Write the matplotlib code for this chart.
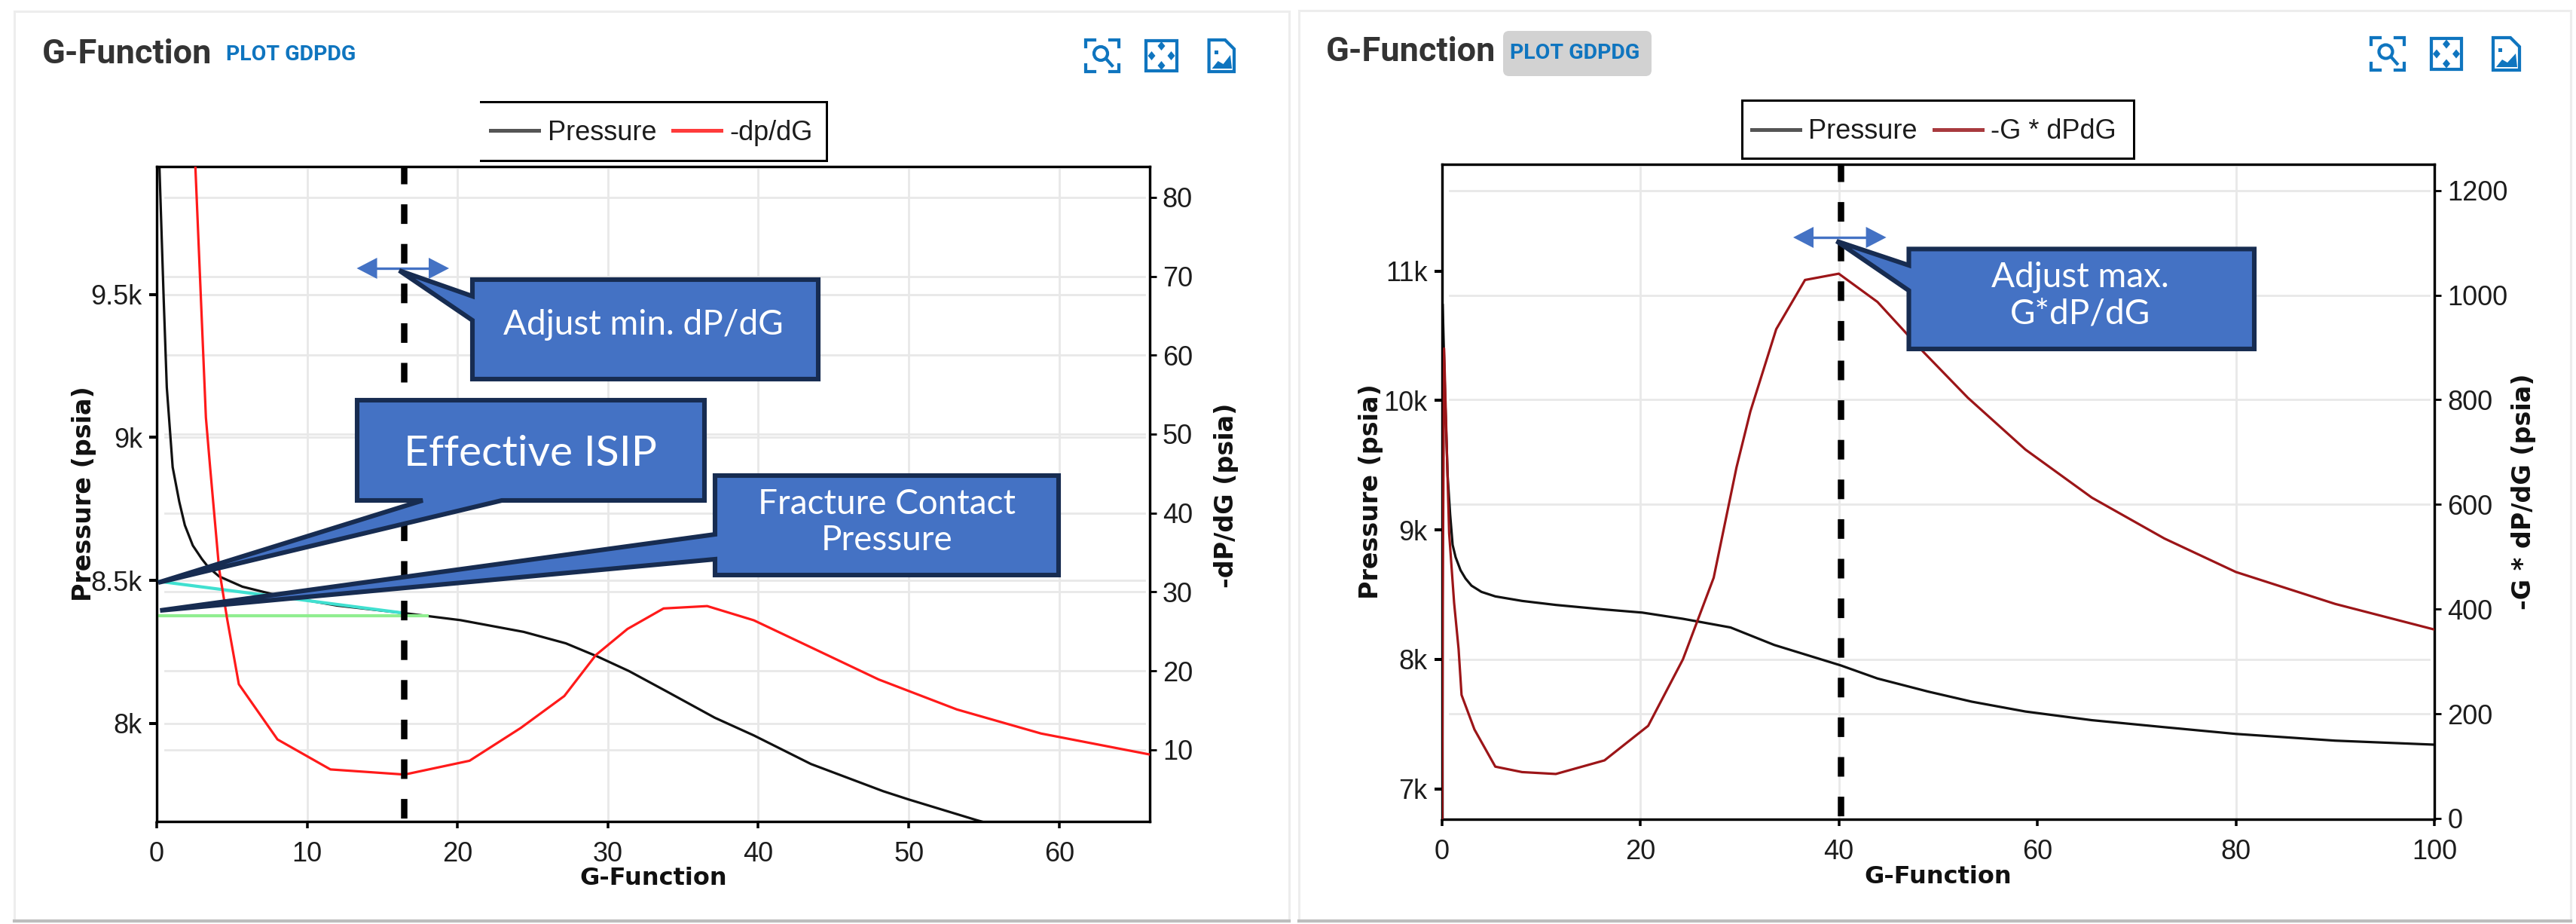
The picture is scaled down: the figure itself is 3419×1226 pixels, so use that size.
import matplotlib
matplotlib.use("Agg")
import matplotlib.pyplot as plt
import matplotlib.transforms as mtrans
from matplotlib.lines import Line2D
from matplotlib.patches import Polygon, Rectangle, FancyBboxPatch, Circle

# ---------- data ----------
left_g_pressure = [0.18, 0.46, 0.67, 1.06, 1.5, 1.87, 2.4, 3.0, 3.45, 4.15, 5.7, 7.85, 12, 16.4, 20.2, 24.4, 27.2, 29.3, 31.4, 33.9, 37.1, 39.7, 43.5, 48.3, 50, 54.5, 56]
left_pressure = [9947, 9489, 9175, 8896, 8775, 8693, 8622, 8575, 8545, 8514, 8478, 8450, 8412, 8386, 8361, 8320, 8280, 8234, 8183, 8112, 8020, 7958, 7858, 7763, 7734, 7662, 7640]
left_g_dpdg = [2.57, 3.27, 3.55, 4.15, 4.68, 5.46, 8.03, 11.55, 16.48, 20.8, 24.2, 27.1, 29.2, 31.3, 33.7, 36.6, 39.7, 43.8, 48, 53.2, 58.8, 66]
left_dpdg = [83.9, 52.1, 45.8, 32.9, 26.6, 18.3, 11.3, 7.5, 6.85, 8.6, 12.75, 16.8, 22, 25.3, 27.9, 28.2, 26.4, 22.7, 18.9, 15.1, 12.05, 9.4]
teal_g = [0.1, 16.4]
teal_p = [8497, 8386]
green_g = [0.1, 18]
green_p = [8377, 8377]
right_g_pressure = [0.1, 0.35, 0.6, 0.85, 1.1, 1.4, 1.9, 2.4, 3, 4, 5.4, 8.1, 11.5, 16.4, 20.2, 24.3, 29.1, 33.5, 40.2, 43.9, 49, 53.4, 58.8, 65.5, 72.8, 80, 90, 100]
right_pressure = [10737, 10000, 9417, 9120, 8885, 8790, 8689, 8625, 8570, 8522, 8487, 8452, 8421, 8386, 8362, 8314, 8247, 8112, 7954, 7853, 7752, 7674, 7598, 7531, 7477, 7425, 7373, 7342]
right_g_gdpdg = [0.05, 0.1, 0.24, 0.62, 0.75, 1.25, 1.7, 2.0, 3.3, 5.4, 8.1, 11.5, 16.4, 20.8, 24.3, 27.4, 29.7, 31.1, 33.7, 36.6, 40, 43.9, 48.5, 53, 58.8, 65.5, 72.8, 80, 90, 100]
right_gdpdg = [0, 400, 898, 632, 545, 412, 324, 236, 170, 99, 88.6, 85, 111, 177, 304, 460, 671, 778, 935, 1029, 1041, 987, 892, 804, 705, 613, 535, 471, 410, 361]

left_closure_g = 16.44
right_closure_g = 40.2
left_xticks = [0, 10, 20, 30, 40, 50, 60]
left_yticks = [8000, 8500, 9000, 9500]
left_ylabels = ["8k", "8.5k", "9k", "9.5k"]
left_rticks = [10, 20, 30, 40, 50, 60, 70, 80]
right_xticks = [0, 20, 40, 60, 80, 100]
right_yticks = [7000, 8000, 9000, 10000, 11000]
right_ylabels = ["7k", "8k", "9k", "10k", "11k"]
right_rticks = [0, 200, 400, 600, 800, 1000, 1200]
right_xgrid = [20, 40, 80]
right_ygrid_left = [8000]
right_ygrid_right = [200, 600, 800, 1000, 1200]

# ---------- setup ----------
W, H = 3419, 1226
plt.rcParams["font.family"] = ["Liberation Sans", "DejaVu Sans"]
plt.rcParams["lines.scale_dashes"] = False
fig = plt.figure(figsize=(W / 100, H / 100), dpi=100, facecolor="white")
PX = mtrans.Affine2D().scale(1, -1).translate(0, H)
NAVY = "#172C51"
FILL = "#4472C4"
BLUE = "#0F75BF"
TXT = "#1c1c1c"
pw = 0.72  # points for one pixel


def make_axes(l, t, r, b):
    return fig.add_axes([l / W, 1 - b / H, (r - l) / W, (b - t) / H])


def style_panel(ax, ax2, xlim, ylim, rlim, xticks, yticks, ylabels, rticks, xlabel, ylabel, rlabel, labelpos):
    ax.set_xlim(*xlim)
    ax.set_ylim(*ylim)
    ax2.set_ylim(*rlim)
    ax.set_xticks(xticks)
    ax.set_yticks(yticks)
    ax.set_yticklabels(ylabels)
    ax2.set_yticks(rticks)
    ax.tick_params(axis="x", length=9 * pw, width=3.5 * pw, pad=12, labelsize=26, labelcolor=TXT)
    ax.tick_params(axis="y", length=10 * pw, width=4 * pw, pad=6.5, labelsize=26, labelcolor=TXT)
    ax2.tick_params(axis="y", length=9 * pw, width=2.8 * pw, pad=6, labelsize=26, labelcolor=TXT)
    for a in (ax, ax2):
        for s in a.spines.values():
            s.set_linewidth(3.2 * pw)
    lab = dict(family="DejaVu Sans", fontweight="bold", color="#111111", va="center", ha="center")
    ax.set_xlabel(xlabel, fontsize=23, **lab)
    ax.set_ylabel(ylabel, rotation=90, fontsize=24, **lab)
    ax2.set_ylabel(rlabel, rotation=90, fontsize=24, **lab)
    (xx, xy), (yx, yy), (rx, ry) = labelpos
    ax.xaxis.set_label_coords(xx / W, 1 - xy / H, transform=fig.transFigure)
    ax.yaxis.set_label_coords(yx / W, 1 - yy / H, transform=fig.transFigure)
    ax2.yaxis.set_label_coords(rx / W, 1 - ry / H, transform=fig.transFigure)


def hgrid(ax, axis_for_y, values):
    tr = mtrans.blended_transform_factory(ax.transAxes, axis_for_y.transData)
    for v in values:
        ax.plot([0.008, 0.995], [v, v], transform=tr, color="#E8E8E8", lw=2.0, zorder=0.5, scaley=False, scalex=False)


def vgrid(ax, values):
    tr = mtrans.blended_transform_factory(ax.transData, ax.transAxes)
    for v in values:
        ax.plot([v, v], [0, 0.995], transform=tr, color="#E8E8E8", lw=2.0, zorder=0.5, scaley=False, scalex=False)


def dashed(ax2, x, offset_px):
    y0, y1 = ax2.get_ylim()
    ax2.plot([x, x], [y1, y0], color="black", lw=8.5 * pw, dash_capstyle="butt",
             linestyle=(offset_px * pw, (26 * pw, 26.6 * pw)), zorder=6, scaley=False, scalex=False)


def add(artist):
    artist.set_transform(PX)
    fig.add_artist(artist)
    return artist


def callout(points, text, cx, cy, size, linespacing=1.2):
    add(Polygon(points, closed=True, facecolor=FILL, edgecolor=NAVY, lw=4.4, joinstyle="miter", zorder=20))
    fig.text(cx / W, 1 - cy / H, text, color="white", family="Lato", fontsize=size, ha="center", va="center",
             ma="center", linespacing=linespacing, zorder=21)


def double_arrow(x0, x1, y):
    hl, hh = 27, 14
    add(Line2D([x0 + hl, x1 - hl], [y, y], color=FILL, lw=2.4, zorder=19))
    add(Polygon([(x0, y), (x0 + hl, y - hh), (x0 + hl, y + hh)], facecolor=FILL, edgecolor="none", zorder=19))
    add(Polygon([(x1, y), (x1 - hl, y - hh), (x1 - hl, y + hh)], facecolor=FILL, edgecolor="none", zorder=19))


def legend_frame(x0, x1, y0, y1, closed_left):
    xs = [x0, x1, x1, x0] + ([x0, x0] if closed_left else [])
    ys = [y0, y0, y1, y1] + ([y1, y0] if closed_left else [])
    add(Line2D(xs, ys, color="black", lw=3 * pw, zorder=15, solid_joinstyle="miter"))


def make_legend(ax2, labels, colors, x, y):
    handles = [Line2D([], [], color=c, lw=3.6) for c in colors]
    ax2.legend(handles, labels, ncol=2, loc="center left", bbox_to_anchor=(x / W, 1 - y / H),
               bbox_transform=fig.transFigure, frameon=False, fontsize=26, borderpad=0, borderaxespad=0,
               handlelength=1.78, handletextpad=0.32, columnspacing=0.6, labelcolor=TXT)


def icons(x_s, x_g, x_i, y0, y1, sw):
    lw = 4.2 * pw
    # search icon
    x0, x1 = x_s
    c = 12
    for (px_, py_, dx, dy) in [(x0, y0, 1, 1), (x1, y0, -1, 1), (x0, y1, 1, -1), (x1, y1, -1, -1)]:
        add(Line2D([px_, px_, px_ + dx * c], [py_ + dy * 9, py_, py_], color=BLUE, lw=lw, zorder=5, solid_joinstyle="miter"))
    mx, my = (x0 + x1) / 2 - 2, (y0 + y1) / 2 - 3
    add(Circle((mx, my), 9, facecolor="none", edgecolor=BLUE, lw=lw, zorder=5))
    add(Line2D([mx + 7, mx + 15], [my + 7, my + 16], color=BLUE, lw=lw, zorder=5))
    # pan icon
    x0, x1 = x_g
    add(Rectangle((x0 + 1, y0 + 1), x1 - x0 - 2, y1 - y0 - 2, facecolor="none", edgecolor=BLUE, lw=lw, zorder=5))
    mx, my = (x0 + x1) / 2, (y0 + y1) / 2
    for dx, dy in [(0, -13), (0, 13), (-13, 0), (13, 0)]:
        cx, cy = mx + dx, my + dy
        add(Polygon([(cx - 5, cy), (cx, cy - 6), (cx + 5, cy), (cx, cy + 6)], facecolor=BLUE, edgecolor="none", zorder=5))
    # image-file icon
    x0, x1 = x_i
    n = 12
    add(Polygon([(x0, y0), (x1 - n, y0), (x1, y0 + n), (x1, y1), (x0, y1)], facecolor="none", edgecolor=BLUE, lw=lw, zorder=5))
    add(Polygon([(x0 + 4, y1 - 4), (x0 + 12, y1 - 14), (x0 + 19, y1 - 10), (x1 - 5, y1 - 22), (x1 - 3, y1 - 4)],
                facecolor=BLUE, edgecolor="none", zorder=5))
    add(Rectangle((x0 + 7, y0 + 14), 5, 5, facecolor=BLUE, edgecolor="none", zorder=5))


# ---------- cards ----------
for (x0, y0, x1, y1) in [(19, 15, 1711, 1221), (1724, 14, 3412, 1221)]:
    add(Rectangle((x0, y0), x1 - x0, y1 - y0, facecolor="white", edgecolor="#EDEDED", lw=2.2, zorder=-5))
    add(Line2D([x0, x1], [y1 + 1, y1 + 1], color="#BDBDBD", lw=3, zorder=-4))

# ---------- left panel ----------
ax = make_axes(208, 221, 1525.5, 1090)
ax2 = ax.twinx()
style_panel(ax, ax2, (0, 66), (7657, 9947), (0.9, 83.9), left_xticks, left_yticks, left_ylabels, left_rticks,
            "G-Function", "Pressure (psia)", "-dP/dG (psia)",
            ((867, 1166), (111, 655), (1628, 657)))
hgrid(ax, ax, left_yticks)
hgrid(ax, ax2, left_rticks)
vgrid(ax, left_xticks[1:])
ax.plot(left_g_pressure, left_pressure, color="#111111", lw=2.3, zorder=3)
ax.plot(teal_g, teal_p, color="#40E0D0", lw=3.0, zorder=4)
ax.plot(green_g, green_p, color="#90EE90", lw=3.0, zorder=4)
ax2.plot(left_g_dpdg, left_dpdg, color="#FF1A1A", lw=2.3, zorder=3)
dashed(ax2, left_closure_g, 3)
make_legend(ax2, ["Pressure", "-dp/dG"], ["#555555", "#FF3B3B"], 651, 176)
legend_frame(638, 1097, 135, 213, False)

# ---------- right panel ----------
bx = make_axes(1913.5, 218, 3231, 1087)
bx2 = bx.twinx()
style_panel(bx, bx2, (0, 100), (6766, 11824), (-1.5, 1250), right_xticks, right_yticks, right_ylabels, right_rticks,
            "G-Function", "Pressure (psia)", "-G * dP/dG (psia)",
            ((2572, 1163), (1819, 652), (3349, 652)))
hgrid(bx, bx, right_ygrid_left)
hgrid(bx, bx2, right_ygrid_right)
vgrid(bx, right_xgrid)
bx.plot(right_g_pressure, right_pressure, color="#111111", lw=2.3, zorder=3)
bx2.plot(right_g_gdpdg, right_gdpdg, color="#9C1518", lw=2.3, zorder=3)
dashed(bx2, right_closure_g, 3)
make_legend(bx2, ["Pressure", "-G * dPdG"], ["#555555", "#A83A3E"], 2324.6, 175)
legend_frame(2311.5, 2832, 132.5, 210, True)

# ---------- titles ----------
fig.text(56 / W, 1 - 72 / H, "G-Function", family="Roboto", fontweight="bold", fontsize=32.5, color="#333333", va="center", ha="left")
fig.text(299.5 / W, 1 - 72 / H, "PLOT GDPDG", family="Roboto", fontweight="bold", fontsize=20.5, color=BLUE, va="center", ha="left")
add(FancyBboxPatch((2001, 47), 185, 48, boxstyle="round,pad=6,rounding_size=8", facecolor="#D2D2D2", edgecolor="none", zorder=1))
fig.text(1760 / W, 1 - 69 / H, "G-Function", family="Roboto", fontweight="bold", fontsize=32.5, color="#333333", va="center", ha="left")
fig.text(2004 / W, 1 - 70 / H, "PLOT GDPDG", family="Roboto", fontweight="bold", fontsize=20.5, color=BLUE, va="center", ha="left", zorder=2)
icons((1441, 1485), (1520, 1563), (1604.6, 1638), 53, 95, 0)
icons((3146.5, 3190.5), (3226, 3268), (3309, 3344), 50, 93, 0)

# ---------- call-outs ----------
b = 3  # half of the border
callout([(624 + b, 368 + b), (1089 - b, 368 + b), (1089 - b, 506 - b), (624 + b, 506 - b), (624 + b, 425), (530, 359), (624 + b, 393)],
        "Adjust min. dP/dG", 854, 431, 33)
callout([(471 + b, 528 + b), (938 - b, 528 + b), (938 - b, 667 - b), (666, 667 - b), (210, 773), (561, 667 - b), (471 + b, 667 - b)],
        "Effective ISIP", 704, 603, 41)
callout([(946 + b, 628 + b), (1408 - b, 628 + b), (1408 - b, 766 - b), (946 + b, 766 - b), (946 + b, 742), (212.5, 810), (946 + b, 709)],
        "Fracture Contact\nPressure", 1177, 693, 33)
callout([(2530.5 + b, 327.4 + b), (2995 - b, 327.4 + b), (2995 - b, 466 - b), (2530.5 + b, 466 - b), (2530.5 + b, 385.5), (2437.7, 320), (2530.5 + b, 352)],
        "Adjust max.\nG*dP/dG", 2761, 392, 33)
double_arrow(473.5, 596, 356)
double_arrow(2380, 2503.6, 315)

fig.savefig("out.png", dpi=100, facecolor="white")
